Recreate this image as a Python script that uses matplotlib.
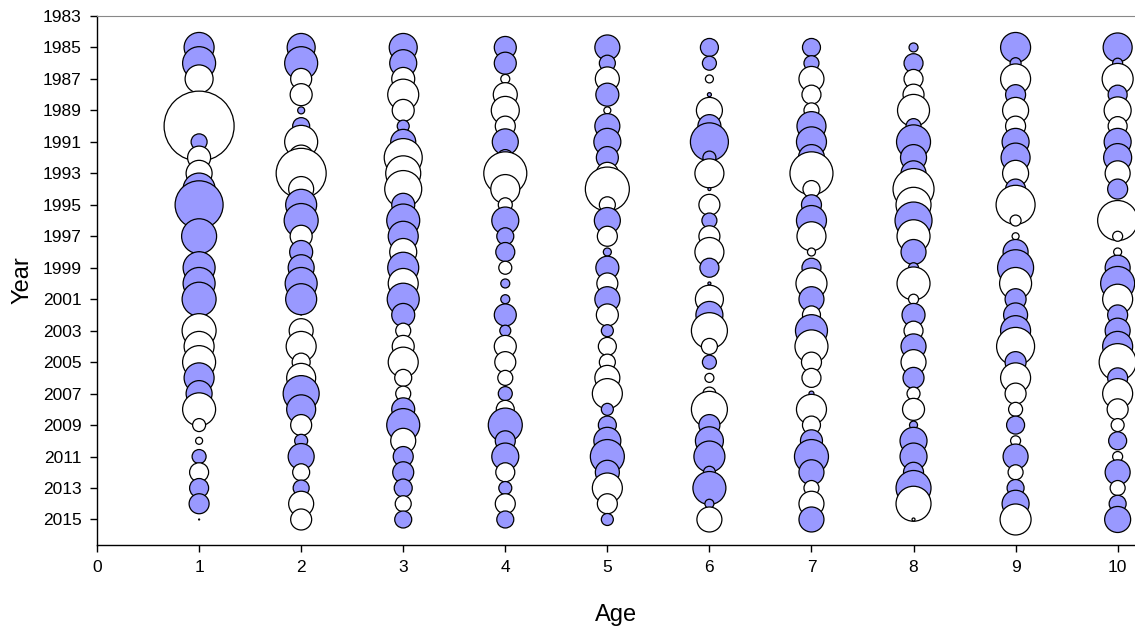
import numpy as np
import matplotlib
matplotlib.use("Agg")
import matplotlib.pyplot as plt

plt.rcParams["font.family"] = ["Liberation Sans", "DejaVu Sans"]

years = list(range(1985, 2016))
ages = list(range(1, 11))

# Standardised residuals per age, 1985..2015 (positive = filled)
age1 = [1.50, 1.65, -1.40, -0.25, -0.80, -3.50, 0.80, -1.15, -1.30, 1.60, 2.40, 0.03, 1.75, 0.03, 1.60, 1.60,
        1.70, 0.03, -1.70, -1.50, -1.65, 1.50, 1.30, -1.65, -0.65, -0.35, 0.70, -0.95, 0.95, 1.00, -0.05]
age2 = [1.40, 1.65, -1.05, -1.10, 0.35, 0.85, -1.65, -1.25, -2.50, -1.25, 1.55, 1.70, -1.10, 1.15, 1.30, 1.60,
        1.55, 0.03, -1.20, -1.50, -0.90, -1.45, 1.80, 1.45, -1.05, 0.65, 1.30, -0.85, 0.80, -1.25, -1.05]
age3 = [1.40, 1.35, -1.15, -1.55, -1.10, 0.60, 1.25, -1.90, -1.75, -1.85, 1.15, 1.65, 1.50, -1.35, 1.55, -1.50,
        1.60, 1.15, -0.75, -1.10, -1.50, -0.85, -0.75, 1.15, 1.65, -1.25, 1.00, 1.05, 0.90, -0.80, 0.85]
age4 = [1.10, 1.10, -0.45, -1.20, -1.40, -1.00, 1.30, 0.80, -2.15, -1.45, -0.70, 1.35, 0.85, 0.95, -0.65, 0.45,
        0.45, 1.10, 0.55, -1.10, -1.05, -0.75, 0.70, -0.90, 1.70, 1.00, 1.35, -0.95, 0.65, -1.00, 0.85]
age5 = [1.25, 0.80, -1.20, 1.15, -0.35, 1.25, 1.35, 1.10, -1.10, -2.20, -0.80, 1.30, -1.00, 0.40, 1.15, -1.05,
        1.25, -1.10, 0.60, -0.90, -0.80, -1.25, -1.50, 0.60, 0.90, 1.35, 1.70, 1.20, -1.50, -1.00, 0.60]
age6 = [0.90, 0.70, -0.40, 0.20, -1.30, 1.15, 1.90, 0.65, -1.45, 0.15, -1.05, 0.75, -1.05, -1.45, 0.95, 0.15,
        -1.40, 1.35, -1.80, -0.80, 0.70, -0.45, -0.65, -1.80, 1.05, 1.40, 1.55, 0.60, 1.65, 0.45, -1.25]
age7 = [0.90, 0.75, -1.25, -0.95, -0.75, 1.45, 1.50, 1.30, -2.15, -0.85, 1.00, 1.50, -1.45, -0.40, 0.95, -1.55,
        1.25, -0.90, 1.60, -1.65, -1.00, -0.95, 0.25, -1.50, -0.90, 1.10, 1.70, 1.25, -0.75, -1.25, 1.25]
age8 = [0.45, 0.95, -0.95, -1.05, -1.60, 0.75, 1.70, 1.30, 1.25, -2.05, -1.75, 1.85, -1.65, 1.25, 0.50, -1.65,
        -0.50, 1.15, -0.95, 1.25, -1.25, 1.05, -0.65, -1.10, 0.40, 1.35, 1.35, 1.00, 1.75, -1.75, -0.15]
age9 = [1.50, 0.55, -1.50, 1.00, -1.30, -1.00, 1.35, 1.45, -1.30, 1.00, -1.95, -0.55, -0.35, 1.25, 1.80, -1.60,
        1.05, 1.20, 1.50, -1.90, 1.05, -1.50, -1.05, -0.70, 0.90, -0.50, 1.25, -0.75, 0.85, 1.35, -1.55]
age10 = [1.45, 0.50, -1.55, 0.95, -1.35, -0.95, 1.35, 1.40, -1.25, 1.00, -0.15, -2.00, -0.50, -0.40, 1.25, 1.70,
         -1.50, 1.00, 1.25, 1.50, -1.85, 1.00, -1.50, -1.05, -0.65, 0.90, -0.50, 1.25, -0.75, 0.85, 1.30]

residuals = [age1, age2, age3, age4, age5, age6, age7, age8, age9, age10]

POS_COLOR = "#9999ff"
NEG_COLOR = "white"
SCALE = 14.4  # marker diameter in points per residual unit

fig = plt.figure(figsize=(11.35, 6.32), dpi=100)
ax = fig.add_axes([0.0855, 0.1377, 0.9145, 0.837])

for age, res in zip(ages, residuals):
    res = np.asarray(res)
    colors = [POS_COLOR if r > 0 else NEG_COLOR for r in res]
    sizes = (np.abs(res) * SCALE) ** 2
    ax.scatter(np.full(len(years), age), years, s=sizes, c=colors,
               edgecolors="black", linewidths=0.9, zorder=3)

ax.set_xlim(0, 10.17)
ax.set_ylim(2016.62, 1983)
ax.set_xticks(range(0, 11))
ax.set_yticks(range(1983, 2016, 2))
ax.tick_params(direction="out", length=5, width=1, labelsize=12.5, pad=6)

ax.spines["right"].set_visible(False)
ax.spines["top"].set_color("#888888")
for side in ("left", "bottom"):
    ax.spines[side].set_linewidth(1)

ax.set_xlabel("Age", fontsize=17, labelpad=21)
ax.set_ylabel("Year", fontsize=17, labelpad=7)

fig.savefig("out.png", dpi=100)
